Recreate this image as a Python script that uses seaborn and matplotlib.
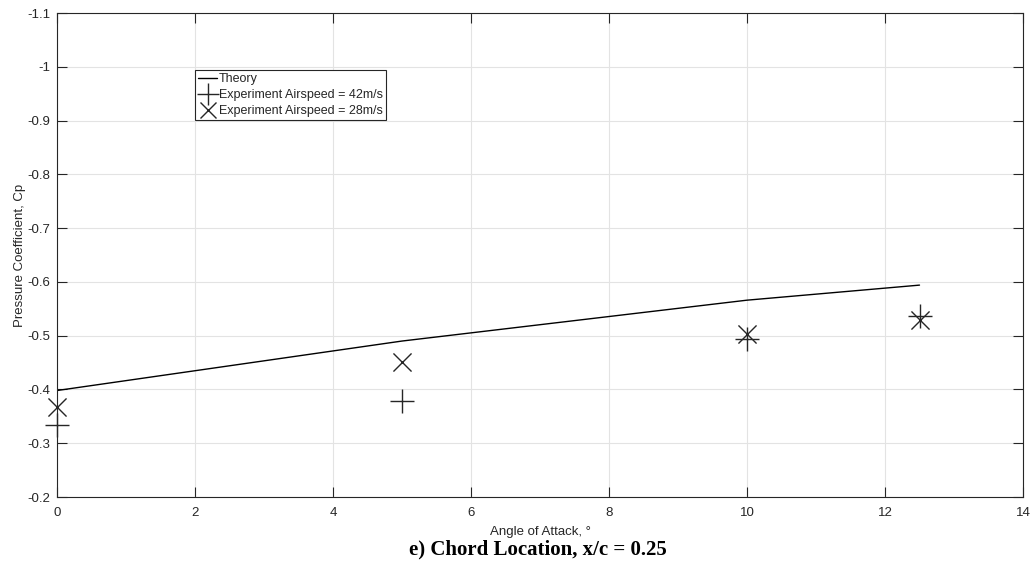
import numpy as np
import pandas as pd
import matplotlib
matplotlib.use("Agg")
import matplotlib.pyplot as plt
import seaborn as sns
from matplotlib.lines import Line2D
from matplotlib.ticker import FuncFormatter

# Pressure coefficient at x/c = 0.25 versus angle of attack
theory_alpha = [0, 5, 10, 12.5]
theory_cp = [-0.398, -0.490, -0.566, -0.594]

exp42_alpha = [0, 5, 10, 12.5]
exp42_cp = [-0.334, -0.378, -0.494, -0.536]

exp28_alpha = [0, 5, 10, 12.5]
exp28_cp = [-0.367, -0.451, -0.504, -0.529]

x_ticks = [0, 2, 4, 6, 8, 10, 12, 14]
y_ticks = [-0.2, -0.3, -0.4, -0.5, -0.6, -0.7, -0.8, -0.9, -1.0, -1.1]

sns.set_theme(style="whitegrid")
plt.rcParams["font.family"] = ["Liberation Sans", "DejaVu Sans"]

fig = plt.figure(figsize=(10.35, 5.65), dpi=100)
ax = fig.add_axes([57 / 1035, 1 - 497 / 565, 966 / 1035, 484 / 565])

df_th = pd.DataFrame({"alpha": theory_alpha, "cp": theory_cp})
df_42 = pd.DataFrame({"alpha": exp42_alpha, "cp": exp42_cp})
df_28 = pd.DataFrame({"alpha": exp28_alpha, "cp": exp28_cp})

sns.lineplot(data=df_th, x="alpha", y="cp", ax=ax, color="black", linewidth=1.0)
sns.scatterplot(data=df_42, x="alpha", y="cp", ax=ax, marker="+", s=280,
                color="#262626", linewidth=1.0, zorder=3, clip_on=False)
sns.scatterplot(data=df_28, x="alpha", y="cp", ax=ax, marker="x", s=170,
                color="#262626", linewidth=1.0, zorder=3, clip_on=False)

ax.set_xlim(0, 14)
ax.set_ylim(-0.2, -1.1)
ax.set_xticks(x_ticks)
ax.set_yticks(y_ticks)
ax.yaxis.set_major_formatter(FuncFormatter(lambda v, p: f"{v:g}"))

ax.grid(True, color="#e3e3e3", linewidth=0.8)
ax.set_facecolor("white")
for side in ["left", "right", "top", "bottom"]:
    ax.spines[side].set_visible(True)
    ax.spines[side].set_color("#262626")
    ax.spines[side].set_linewidth(0.8)

ax.tick_params(axis="both", which="both", direction="in", length=7, width=0.8,
               color="#262626", labelcolor="#262626", labelsize=9.5,
               top=True, right=True, left=True, bottom=True)
ax.tick_params(axis="x", pad=7)
ax.tick_params(axis="y", pad=5)

ax.set_xlabel("Angle of Attack, °", fontsize=9.5, color="#262626", labelpad=5)
ax.set_ylabel("Pressure Coefficient, Cp", fontsize=9.5, color="#262626", labelpad=0.5)

handles = [
    Line2D([], [], color="black", linewidth=1.0),
    Line2D([], [], color="#262626", marker="+", markersize=16, linestyle="none",
           markeredgewidth=1.0),
    Line2D([], [], color="#262626", marker="x", markersize=12, linestyle="none",
           markeredgewidth=1.0),
]
labels = ["Theory", "Experiment Airspeed = 42m/s", "Experiment Airspeed = 28m/s"]
leg = ax.legend(handles, labels, loc="upper left", bbox_to_anchor=(0.143, 0.882),
                borderaxespad=0, fontsize=9, handlelength=1.5, handletextpad=0.15,
                labelspacing=0.32, borderpad=0.25, fancybox=False, framealpha=1,
                edgecolor="#262626")
leg.get_frame().set_linewidth(0.8)

fig.text(538 / 1035, 1 - 549 / 565, "e) Chord Location, x/c = 0.25",
         ha="center", va="center", fontsize=15, fontweight="bold",
         family=["Liberation Serif", "DejaVu Serif"], color="black")

fig.savefig("out.png", dpi=100)
